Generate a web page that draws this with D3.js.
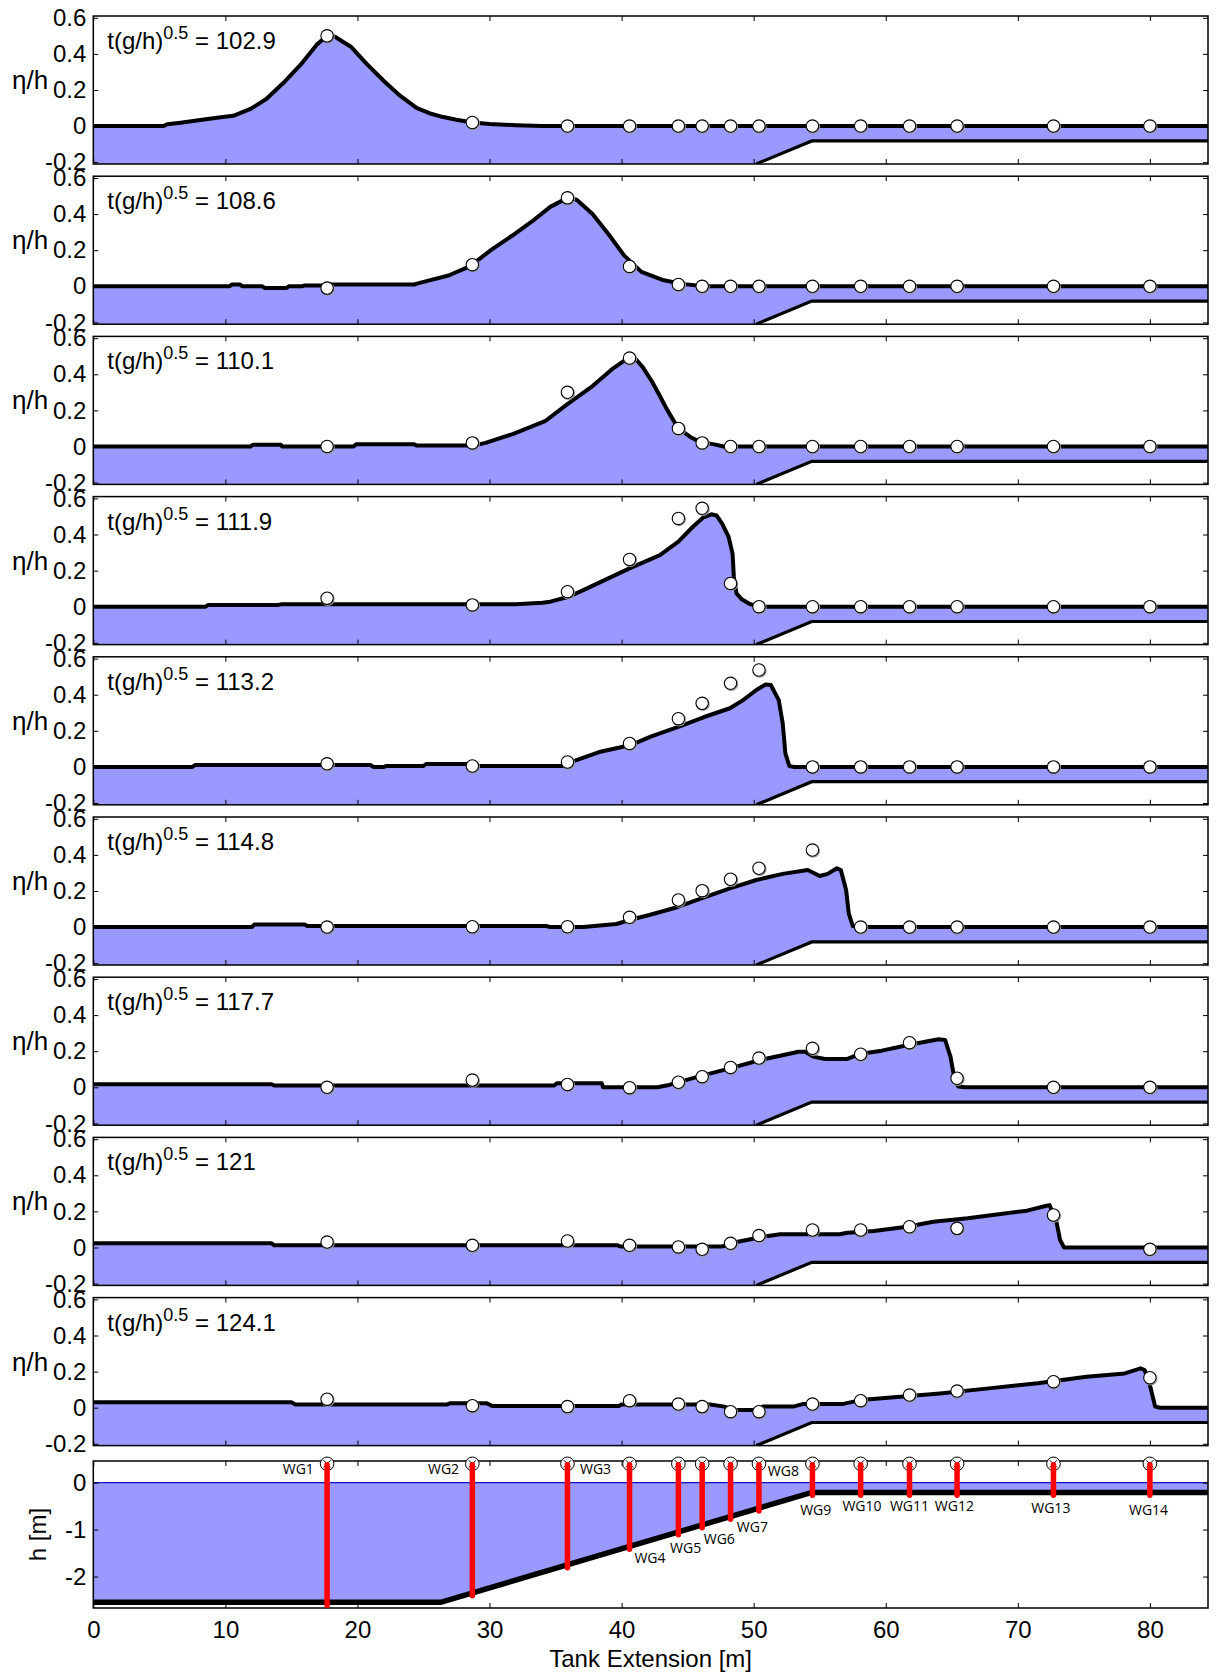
<!DOCTYPE html>
<html>
<head>
<meta charset="utf-8">
<script src="https://cdn.jsdelivr.net/npm/d3@7"></script>
<style>
  html, body { margin: 0; padding: 0; background: #fff; }
  svg { display: block; }
</style>
</head>
<body>
<svg id="chart" width="1218" height="1677"></svg>
<script>
// ---------------------------------------------------------------
// Data: free-surface snapshots (eta/h) along the tank, gauge records
// ---------------------------------------------------------------
const xDomain = [0, 84.4];
const xTicks = [0, 10, 20, 30, 40, 50, 60, 70, 80];
const etaDomain = [-0.21, 0.61];
const etaTicks = [0.6, 0.4, 0.2, 0, -0.2];
const depthDomain = [-2.67, 0.46];
const depthTicks = [0, -1, -2];

const times = ["102.9", "108.6", "110.1", "111.9", "113.2", "114.8", "117.7", "121", "124.1"];

const gaugeNames = ["WG1", "WG2", "WG3", "WG4", "WG5", "WG6", "WG7", "WG8", "WG9", "WG10", "WG11", "WG12", "WG13", "WG14"];
const gaugeX = [17.7, 28.7, 35.9, 40.6, 44.3, 46.1, 48.25, 50.4, 54.45, 58.1, 61.8, 65.4, 72.7, 80.0];

// numerical free surface, [x (m), eta/h]
const surface1029 = [[0,0],[5.3,0],[5.6,0.01],[6.6,0.019],[8.1,0.034],[9.8,0.05],[10.6,0.057],[11.9,0.095],[13.1,0.15],[14.4,0.24],[15.7,0.34],[16.9,0.45],[17.7,0.5],[18.3,0.495],[19.5,0.44],[20.7,0.345],[22.0,0.25],[23.2,0.17],[24.5,0.1],[25.5,0.07],[26.5,0.05],[27.5,0.035],[28.7,0.02],[30,0.012],[32,0.005],[34,0],[84.4,0]];
const surface1086 = [[0,0],[10.3,0],[10.5,0.01],[11.1,0.01],[11.3,0],[12.8,0],[13,-0.01],[14.6,-0.01],[14.8,0],[15.8,0],[16,0.005],[17.8,0.005],[18,0.01],[24.3,0.01],[24.5,0.015],[25.3,0.03],[26.9,0.06],[28.5,0.11],[30.1,0.2],[31.7,0.28],[33.4,0.37],[34.6,0.44],[35.9,0.49],[36.6,0.48],[37.8,0.4],[39.0,0.29],[40.2,0.17],[41.5,0.08],[43.1,0.035],[44.7,0.012],[46.3,0],[84.4,0]];
const surface1101 = [[0,0],[11.9,0],[12.1,0.01],[14.2,0.01],[14.3,0],[19.7,0],[19.9,0.012],[24.3,0.012],[24.5,0.005],[28.8,0.005],[29.7,0.02],[31.8,0.07],[34.2,0.14],[35.9,0.235],[37.8,0.335],[39.3,0.43],[40.6,0.495],[41.0,0.49],[41.6,0.44],[42.3,0.36],[42.9,0.28],[43.4,0.21],[43.8,0.16],[44.3,0.1],[45.2,0.053],[45.9,0.027],[47.2,0.009],[47.7,0],[84.4,0]];
const surface1119 = [[0,0],[8.5,0],[8.7,0.01],[14,0.01],[14.2,0.013],[32,0.013],[34,0.022],[34.6,0.028],[36.0,0.055],[37.1,0.092],[40.6,0.212],[42.9,0.286],[44.3,0.36],[45.4,0.443],[46.2,0.495],[46.8,0.512],[47.2,0.505],[47.6,0.462],[48.1,0.388],[48.4,0.295],[48.5,0.166],[48.7,0.074],[49.1,0.041],[49.7,0.015],[50.4,0],[84.4,0]];
const surface1132 = [[0,0],[7.5,0],[7.7,0.01],[21,0.01],[21.2,0],[22,0],[22.2,0.005],[25,0.005],[25.2,0.016],[28.8,0.016],[29,0.005],[35.6,0.005],[35.9,0.02],[38.4,0.084],[40.7,0.121],[42.2,0.168],[44.5,0.227],[46.2,0.275],[48.2,0.325],[49.2,0.37],[50.2,0.426],[50.9,0.457],[51.3,0.454],[51.9,0.37],[52.2,0.241],[52.4,0.075],[52.7,0.005],[53,0],[84.4,0]];
const surface1148 = [[0,0],[12,0],[12.2,0.015],[16,0.015],[16.2,0.006],[34.3,0.006],[34.6,0],[37.1,0],[39.6,0.017],[40.6,0.039],[42.1,0.067],[44.2,0.11],[46.2,0.163],[48.2,0.215],[50.2,0.261],[52.2,0.295],[54.1,0.316],[55.0,0.283],[55.6,0.295],[56.3,0.326],[56.6,0.316],[57.0,0.206],[57.2,0.076],[57.5,0.006],[58.0,0],[84.4,0]];
const surface1177 = [[0,0.017],[13.5,0.017],[13.7,0.01],[34.9,0.01],[35.1,0.022],[38.5,0.022],[38.6,0],[42.7,0],[43.6,0.013],[45.8,0.059],[48.2,0.105],[50.5,0.151],[53.4,0.197],[53.9,0.197],[54.5,0.17],[55.4,0.157],[57.1,0.157],[58.0,0.184],[59.7,0.203],[61.7,0.234],[64.0,0.266],[64.5,0.262],[64.9,0.17],[65.2,0.05],[65.5,0.004],[66,0],[84.4,0]];
const surface1210 = [[0,0.023],[13.5,0.023],[13.7,0.012],[39.7,0.012],[39.9,0.006],[47.5,0.006],[47.8,0.008],[48.8,0.032],[50.7,0.06],[52.0,0.073],[56.5,0.073],[57.1,0.082],[59.1,0.091],[61.6,0.115],[63.6,0.143],[66.2,0.162],[68.7,0.186],[70.7,0.204],[72.1,0.23],[72.4,0.235],[72.9,0.152],[73.2,0.042],[73.5,0],[84.4,0]];
const surface1241 = [[0,0.03],[15,0.03],[15.3,0.018],[26.8,0.018],[27,0.024],[29.8,0.024],[30.2,0.009],[39.8,0.009],[40,0.018],[46.7,0.018],[47.8,0.006],[48.4,-0.013],[50.2,-0.013],[50.7,0.006],[53.0,0.006],[53.7,0.02],[56.7,0.02],[58.1,0.042],[61.1,0.061],[64.1,0.079],[67.8,0.107],[71.5,0.135],[75.2,0.172],[78.1,0.19],[79.3,0.218],[79.6,0.209],[80.0,0.126],[80.4,0.006],[80.8,0],[84.4,0]];

// measured eta/h at WG1..WG14
const gauges1029 = [0.5, 0.02, 0, 0, 0, 0, 0, 0, 0, 0, 0, 0, 0, 0];
const gauges1086 = [-0.01, 0.12, 0.49, 0.11, 0.01, 0, 0, 0, 0, 0, 0, 0, 0, 0];
const gauges1101 = [0, 0.02, 0.30, 0.49, 0.10, 0.02, 0, 0, 0, 0, 0, 0, 0, 0];
const gauges1119 = [0.047, 0.01, 0.083, 0.262, 0.489, 0.545, 0.129, 0, 0, 0, 0, 0, 0, 0];
const gauges1132 = [0.017, 0.005, 0.027, 0.13, 0.267, 0.352, 0.463, 0.537, 0, 0, 0, 0, 0, 0];
const gauges1148 = [0, 0.002, 0.002, 0.054, 0.15, 0.202, 0.265, 0.326, 0.427, 0, 0, 0, 0, 0];
const gauges1177 = [0, 0.04, 0.016, -0.002, 0.028, 0.059, 0.11, 0.162, 0.216, 0.183, 0.247, 0.05, 0, 0];
const gauges1210 = [0.03, 0.012, 0.036, 0.012, 0.003, -0.01, 0.023, 0.066, 0.097, 0.097, 0.115, 0.106, 0.18, -0.01];
const gauges1241 = [0.047, 0.011, 0.006, 0.039, 0.02, 0.006, -0.022, -0.022, 0.02, 0.039, 0.07, 0.092, 0.144, 0.166];

// shelf seen in the eta/h panels, and the bed profile h(x) in metres
const shelfEta = [[50.2, -0.21], [54.4, -0.082], [84.4, -0.082]];
const bedDepth = [[0, -2.55], [26.3, -2.55], [54.4, -0.21], [84.4, -0.21]];
const gaugeTopLevel = 0.4;

const surfaces = [surface1029, surface1086, surface1101, surface1119, surface1132, surface1148, surface1177, surface1210, surface1241];
const gaugeRecords = [gauges1029, gauges1086, gauges1101, gauges1119, gauges1132, gauges1148, gauges1177, gauges1210, gauges1241];

// ---------------------------------------------------------------
// Layout
// ---------------------------------------------------------------
const FONT = "'Liberation Sans', Arial, Helvetica, sans-serif";
const LABEL_FONT = "'Open Sans', 'Liberation Sans', sans-serif";
const WATER = "#9999ff";
const plotLeft = 93.3, plotRight = 1208;
const panelTop0 = 16, panelPitch = 160.2, panelH = 148;
const depthTop = 1461, depthH = 147;
const tickLen = 5;

// where each gauge name sits: anchor, offset along x (m), level (m)
const gaugeLabelLayout = [
  { anchor: "end",    dx: -1.0, level: 0.29 },
  { anchor: "end",    dx: -1.0, level: 0.29 },
  { anchor: "start",  dx: 0.95, level: 0.29 },
  { anchor: "middle", dx: 1.55, level: -1.6 },
  { anchor: "middle", dx: 0.55, level: -1.39 },
  { anchor: "middle", dx: 1.3,  level: -1.2 },
  { anchor: "middle", dx: 1.65, level: -0.94 },
  { anchor: "middle", dx: 1.85, level: 0.25 },
  { anchor: "middle", dx: 0.25, level: -0.58 },
  { anchor: "middle", dx: 0.1,  level: -0.5 },
  { anchor: "middle", dx: 0.0,  level: -0.5 },
  { anchor: "middle", dx: -0.2, level: -0.5 },
  { anchor: "middle", dx: -0.2, level: -0.54 },
  { anchor: "middle", dx: -0.1, level: -0.58 }
];

const svg = d3.select("#chart");
const x = d3.scaleLinear().domain(xDomain).range([plotLeft, plotRight]);

function styleAxis(g) {
  g.select(".domain").remove();
  g.attr("font-family", FONT).attr("font-size", 24);
  g.selectAll(".tick line").attr("stroke", "#000").attr("stroke-width", 1);
  g.selectAll(".tick text").attr("fill", "#000");
}

function drawFrameAndTicks(g, y, height, yTickValues, yLabels) {
  g.append("g").attr("transform", `translate(${plotLeft},0)`)
    .call(d3.axisLeft(y).tickValues(yTickValues).tickSize(-tickLen).tickPadding(7)
      .tickFormat(yLabels ? (d => String(d)) : ""))
    .call(styleAxis);
  g.append("g").attr("transform", `translate(${plotRight},0)`)
    .call(d3.axisRight(y).tickValues(yTickValues).tickSize(-tickLen).tickFormat(""))
    .call(styleAxis);
  g.append("g").attr("transform", `translate(0,0)`)
    .call(d3.axisTop(x).tickValues(xTicks).tickSize(-tickLen).tickFormat(""))
    .call(styleAxis);
  g.append("rect")
    .attr("x", plotLeft).attr("y", 0)
    .attr("width", plotRight - plotLeft).attr("height", height)
    .attr("fill", "none").attr("stroke", "#000").attr("stroke-width", 1.5);
}

// ---------------------------------------------------------------
// Snapshot panels
// ---------------------------------------------------------------
times.forEach((t, i) => {
  const top = panelTop0 + i * panelPitch;
  const y = d3.scaleLinear().domain(etaDomain).range([panelH, 0]);
  const g = svg.append("g").attr("transform", `translate(0,${top})`);
  const clipId = "clip-eta-" + i;
  g.append("clipPath").attr("id", clipId)
    .append("rect").attr("x", plotLeft).attr("y", 0)
    .attr("width", plotRight - plotLeft).attr("height", panelH);
  const plot = g.append("g").attr("clip-path", `url(#${clipId})`);

  const surface = surfaces[i];
  plot.append("path").datum(surface)
    .attr("d", d3.area().x(d => x(d[0])).y0(panelH + 2).y1(d => y(d[1])))
    .attr("fill", WATER);

  // ground below the slope and shelf
  plot.append("path").datum(shelfEta)
    .attr("d", d3.area().x(d => x(d[0])).y0(panelH + 2).y1(d => y(d[1])))
    .attr("fill", "#fff");
  plot.append("path").datum(shelfEta)
    .attr("d", d3.line().x(d => x(d[0])).y(d => y(d[1])))
    .attr("fill", "none").attr("stroke", "#000").attr("stroke-width", 3.2);

  plot.append("path").datum(surface)
    .attr("d", d3.line().x(d => x(d[0])).y(d => y(d[1])))
    .attr("fill", "none").attr("stroke", "#000")
    .attr("stroke-width", 4).attr("stroke-linejoin", "round");

  const rec = gaugeRecords[i].map((v, k) => ({ x: gaugeX[k], v }));
  plot.selectAll("circle.shadow").data(rec).join("circle")
    .attr("class", "shadow")
    .attr("cx", d => x(d.x) + 0.8).attr("cy", d => y(d.v) + 0.8).attr("r", 6.3)
    .attr("fill", "none").attr("stroke", "#9a9a9a").attr("stroke-width", 1.2);
  plot.selectAll("circle.gauge").data(rec).join("circle")
    .attr("class", "gauge")
    .attr("cx", d => x(d.x)).attr("cy", d => y(d.v)).attr("r", 6.2)
    .attr("fill", "#fff").attr("stroke", "#000").attr("stroke-width", 1.1);

  g.append("g").attr("transform", `translate(0,${panelH})`)
    .call(d3.axisBottom(x).tickValues(xTicks).tickSize(-tickLen).tickFormat(""))
    .call(styleAxis);
  drawFrameAndTicks(g, y, panelH, etaTicks, true);

  const label = g.append("text")
    .attr("x", plotLeft + 14).attr("y", 33)
    .attr("font-family", FONT).attr("font-size", 24).attr("fill", "#000")
    .style("white-space", "pre");
  label.append("tspan").text("t(g/h)");
  label.append("tspan").attr("font-size", 18).attr("dy", -10).text("0.5");
  label.append("tspan").attr("dy", 10).text(" = " + t);

  g.append("text")
    .attr("x", 12).attr("y", 73)
    .attr("font-family", FONT).attr("font-size", 26).attr("fill", "#000")
    .text("η/h");
});

// ---------------------------------------------------------------
// Tank cross-section with gauge positions
// ---------------------------------------------------------------
const yD = d3.scaleLinear().domain(depthDomain).range([depthH, 0]);
const gD = svg.append("g").attr("transform", `translate(0,${depthTop})`);
gD.append("clipPath").attr("id", "clip-depth")
  .append("rect").attr("x", plotLeft).attr("y", 0)
  .attr("width", plotRight - plotLeft).attr("height", depthH);
const plotD = gD.append("g").attr("clip-path", "url(#clip-depth)");

plotD.append("path").datum(bedDepth)
  .attr("d", d3.area().x(d => x(d[0])).y0(d => yD(d[1])).y1(yD(0)))
  .attr("fill", WATER);
plotD.append("line")
  .attr("x1", x(xDomain[0])).attr("x2", x(xDomain[1]))
  .attr("y1", yD(0)).attr("y2", yD(0))
  .attr("stroke", "#1010c8").attr("stroke-width", 1.4);
plotD.append("path").datum(bedDepth)
  .attr("d", d3.line().x(d => x(d[0])).y(d => yD(d[1])))
  .attr("fill", "none").attr("stroke", "#000").attr("stroke-width", 5.5);

const bedAt = gx => {
  const xs = bedDepth.map(d => d[0]);
  const ys = bedDepth.map(d => d[1]);
  return d3.scaleLinear().domain(xs).range(ys)(gx);
};

const gauges = gaugeX.map((gx, k) => ({ x: gx, name: gaugeNames[k], lay: gaugeLabelLayout[k] }));

gD.append("g").attr("transform", `translate(0,${depthH})`)
  .call(d3.axisBottom(x).tickValues(xTicks).tickSize(-tickLen).tickPadding(13).tickFormat(d => String(d)))
  .call(styleAxis);
drawFrameAndTicks(gD, yD, depthH, depthTicks, true);

// gauge markers sit on the top edge of the section, so they are drawn unclipped
const markers = gD.selectAll("g.wg").data(gauges).join("g").attr("class", "wg")
  .attr("transform", d => `translate(${x(d.x)},${yD(gaugeTopLevel)})`);
markers.append("circle").attr("r", 6.8)
  .attr("fill", "#fff").attr("stroke", "#000").attr("stroke-width", 1);
markers.append("path").attr("d", "M-3.6,-3.6L3.6,3.6M-3.6,3.6L3.6,-3.6")
  .attr("stroke", "#000").attr("stroke-width", 1);

gD.selectAll("line.bar").data(gauges).join("line").attr("class", "bar")
  .attr("x1", d => x(d.x)).attr("x2", d => x(d.x))
  .attr("y1", yD(gaugeTopLevel) + 1)
  .attr("y2", d => yD(bedAt(d.x) - 0.06))
  .attr("stroke", "#ff0000").attr("stroke-width", 5.5).attr("stroke-linecap", "round");

gD.selectAll("text.wglabel").data(gauges).join("text").attr("class", "wglabel")
  .attr("x", d => x(d.x + d.lay.dx)).attr("y", d => yD(d.lay.level))
  .attr("dy", "0.35em")
  .attr("text-anchor", d => d.lay.anchor)
  .attr("font-family", LABEL_FONT).attr("font-size", 14).attr("fill", "#000")
  .text(d => d.name);

svg.append("text")
  .attr("x", (plotLeft + plotRight) / 2).attr("y", 1667)
  .attr("text-anchor", "middle")
  .attr("font-family", FONT).attr("font-size", 24).attr("fill", "#000")
  .text("Tank Extension [m]");

svg.append("text")
  .attr("transform", `translate(46,${depthTop + depthH / 2}) rotate(-90)`)
  .attr("text-anchor", "middle")
  .attr("font-family", FONT).attr("font-size", 24).attr("fill", "#000")
  .text("h [m]");
</script>
</body>
</html>
